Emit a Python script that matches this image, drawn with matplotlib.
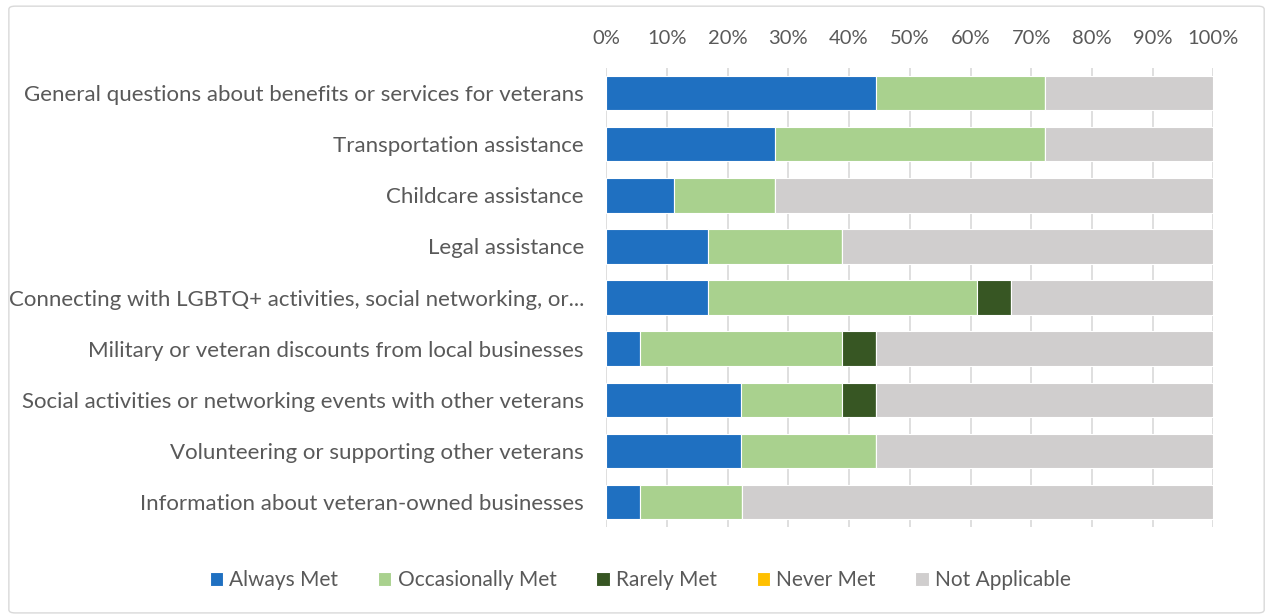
import matplotlib.pyplot as plt
import numpy as np
from matplotlib.patches import FancyBboxPatch

plt.rcParams['font.family'] = ['Lato', 'DejaVu Sans']

categories = ['General questions about benefits or services for veterans',
              'Transportation assistance',
              'Childcare assistance',
              'Legal assistance',
              'Connecting with LGBTQ+ activities, social networking, or...',
              'Military or veteran discounts from local businesses',
              'Social activities or networking events with other veterans',
              'Volunteering or supporting other veterans',
              'Information about veteran-owned businesses']

always = [44.4, 27.8, 11.1, 16.7, 16.7, 5.6, 22.2, 22.2, 5.6]
occasionally = [27.8, 44.4, 16.7, 22.2, 44.4, 33.3, 16.7, 22.2, 16.7]
rarely = [0, 0, 0, 0, 5.6, 5.6, 5.6, 0, 0]
never = [0, 0, 0, 0, 0, 0, 0, 0, 0]
not_applicable = [27.8, 27.8, 72.2, 61.1, 33.3, 55.5, 55.5, 55.6, 77.7]

series = [('Always Met', always, '#1f70c1'),
          ('Occasionally Met', occasionally, '#a9d18e'),
          ('Rarely Met', rarely, '#375623'),
          ('Never Met', never, '#ffc000'),
          ('Not Applicable', not_applicable, '#d0cece')]

fig = plt.figure(figsize=(12.68, 6.16), dpi=100)
ax = fig.add_axes([0.478, 0.144, 0.479, 0.746])

y = np.arange(len(categories))
left = np.zeros(len(categories))
for name, vals, col in series:
    vals = np.array(vals)
    ax.barh(y, vals, left=left, height=0.67, color=col, label=name,
            edgecolor='white', linewidth=0.8, zorder=3)
    left = left + vals

ax.set_xlim(0, 100)
ax.set_ylim(len(categories) - 0.5, -0.5)
ax.set_xticks(np.arange(0, 101, 10))
ax.set_xticklabels([f'{v}%' for v in range(0, 101, 10)])
ax.xaxis.tick_top()
ax.set_yticks(y)
ax.set_yticklabels(categories)
ax.tick_params(axis='x', length=0, pad=15, labelsize=14.5, labelcolor='#595959')
ax.tick_params(axis='y', length=0, pad=16, labelsize=16, labelcolor='#595959')
ax.grid(axis='x', color='#d9d9d9', linewidth=1.2, zorder=0)
for s in ax.spines.values():
    s.set_visible(False)

handles, labels = ax.get_legend_handles_labels()
fig.legend(handles, labels, loc='center', bbox_to_anchor=(0.505, 0.058), ncol=5,
           frameon=False, fontsize=15, labelcolor='#595959',
           handlelength=0.65, handleheight=0.65, handletextpad=0.3, columnspacing=1.9)

border = FancyBboxPatch((0.007, 0.005), 0.99, 0.985, boxstyle='round,pad=0,rounding_size=0.005',
                        transform=fig.transFigure, fill=False, edgecolor='#d9d9d9', linewidth=1)
fig.patches.append(border)

fig.savefig('out.png', dpi=100, facecolor='white')
